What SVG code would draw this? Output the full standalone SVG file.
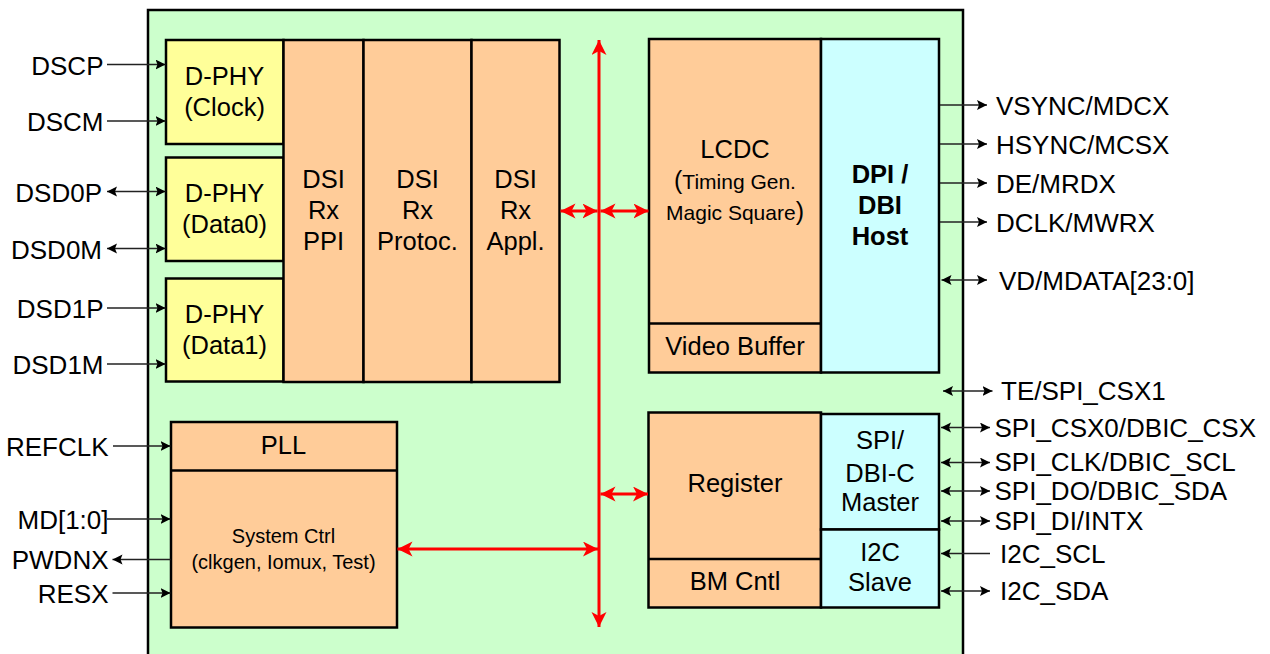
<svg xmlns="http://www.w3.org/2000/svg" width="1270" height="654" viewBox="0 0 1270 654">
<defs>
<style>
text{font-family:"Liberation Sans",Arial,sans-serif;font-size:25.5px;fill:#000}
.c{text-anchor:middle}
.e{text-anchor:end}
.b{font-weight:bold}
.s{font-size:20px}
.t{font-size:21px}
#labels text{font-size:26px}
.box{stroke:#000;stroke-width:2.5}
.y{fill:#FFFF99}
.o{fill:#FFCC99}
.cy{fill:#CCFFFF}
.sig{stroke:#222;stroke-width:1.3;fill:none}
.red{stroke:#FF0000;stroke-width:3;fill:none}
</style>
<marker id="ah" markerUnits="userSpaceOnUse" markerWidth="11" markerHeight="11" refX="10" refY="5" orient="auto-start-reverse" viewBox="0 0 11 11">
<path d="M0,0 L10,5 L0,10 L2,5 z" fill="#000"/>
</marker>
<marker id="rh" markerUnits="userSpaceOnUse" markerWidth="16" markerHeight="16" refX="15" refY="7.5" orient="auto-start-reverse" viewBox="0 0 16 16">
<path d="M0,0 L15,7.5 L0,15 L4,7.5 z" fill="#FF0000"/>
</marker>
</defs>

<g id="chip">
<rect x="148" y="10" width="815" height="665" fill="#CCFFCC" class="box"/>
</g>

<g id="dphy-clock">
<rect x="166" y="40" width="117.5" height="104" class="box y"/>
<text x="224.5" y="85" class="c">D-PHY</text>
<text x="224.5" y="116" class="c">(Clock)</text>
</g>
<g id="dphy-data0">
<rect x="166" y="157.5" width="117.5" height="103.5" class="box y"/>
<text x="224.5" y="202" class="c">D-PHY</text>
<text x="224.5" y="233" class="c">(Data0)</text>
</g>
<g id="dphy-data1">
<rect x="166" y="278.5" width="117.5" height="103" class="box y"/>
<text x="224.5" y="323" class="c">D-PHY</text>
<text x="224.5" y="354" class="c">(Data1)</text>
</g>

<g id="dsi-ppi">
<rect x="283.5" y="40" width="80" height="342" class="box o"/>
<text x="323.5" y="188" class="c">DSI</text>
<text x="323.5" y="219" class="c">Rx</text>
<text x="323.5" y="249.5" class="c">PPI</text>
</g>
<g id="dsi-protoc">
<rect x="363.5" y="40" width="108" height="342" class="box o"/>
<text x="417.5" y="188" class="c">DSI</text>
<text x="417.5" y="219" class="c">Rx</text>
<text x="417.5" y="249.5" class="c">Protoc.</text>
</g>
<g id="dsi-appl">
<rect x="471.5" y="40" width="88" height="342" class="box o"/>
<text x="515.5" y="188" class="c">DSI</text>
<text x="515.5" y="219" class="c">Rx</text>
<text x="515.5" y="249.5" class="c">Appl.</text>
</g>

<g id="lcdc">
<rect x="649" y="39" width="172" height="333.5" class="box o"/>
<line x1="649" y1="323.5" x2="821" y2="323.5" class="box"/>
<text x="735" y="158" class="c">LCDC</text>
<text x="735" y="189" class="c t"><tspan style="font-size:25px">(</tspan>Timing Gen.</text>
<text x="735" y="220" class="c t">Magic Square<tspan style="font-size:25px">)</tspan></text>
<text x="735" y="355" class="c">Video Buffer</text>
</g>

<g id="dpi-dbi-host">
<rect x="821" y="39" width="118" height="333.5" class="box cy"/>
<text x="880" y="183" class="c b">DPI /</text>
<text x="880" y="214" class="c b">DBI</text>
<text x="880" y="245" class="c b">Host</text>
</g>

<g id="pll-sysctrl">
<rect x="171" y="422" width="226" height="205.5" class="box o"/>
<line x1="171" y1="470.5" x2="397" y2="470.5" class="box"/>
<text x="283.5" y="454" class="c">PLL</text>
<text x="283.5" y="543" class="c s">System Ctrl</text>
<text x="283.5" y="568.5" class="c s">(clkgen, Iomux, Test)</text>
</g>

<g id="register">
<rect x="648.5" y="412.5" width="172.5" height="195" class="box o"/>
<line x1="648.5" y1="559" x2="821" y2="559" class="box"/>
<text x="735" y="492" class="c">Register</text>
<text x="735" y="590" class="c">BM Cntl</text>
</g>

<g id="spi-master">
<rect x="821" y="414" width="118" height="115.5" class="box cy"/>
<text x="880" y="448.5" class="c">SPI/</text>
<text x="880" y="481.5" class="c">DBI-C</text>
<text x="880" y="511" class="c">Master</text>
</g>
<g id="i2c-slave">
<rect x="821" y="529.5" width="118" height="78" class="box cy"/>
<text x="880" y="561" class="c">I2C</text>
<text x="880" y="591" class="c">Slave</text>
</g>

<g id="connectors">
<line x1="599" y1="40" x2="599" y2="627" class="red" marker-start="url(#rh)" marker-end="url(#rh)"/>
<line x1="560.5" y1="211" x2="597.5" y2="211" class="red" marker-start="url(#rh)" marker-end="url(#rh)"/>
<line x1="600.5" y1="211" x2="648.5" y2="211" class="red" marker-start="url(#rh)" marker-end="url(#rh)"/>
<line x1="600.5" y1="494" x2="648" y2="494" class="red" marker-start="url(#rh)" marker-end="url(#rh)"/>
<line x1="397.5" y1="549" x2="598" y2="549" class="red" marker-start="url(#rh)" marker-end="url(#rh)"/>

<line x1="107" y1="64.5" x2="165.5" y2="64.5" class="sig" marker-end="url(#ah)"/>
<line x1="107" y1="121" x2="165.5" y2="121" class="sig" marker-end="url(#ah)"/>
<line x1="107" y1="191.5" x2="165.5" y2="191.5" class="sig" marker-start="url(#ah)" marker-end="url(#ah)"/>
<line x1="107" y1="248.5" x2="165.5" y2="248.5" class="sig" marker-start="url(#ah)" marker-end="url(#ah)"/>
<line x1="107" y1="308" x2="165.5" y2="308" class="sig" marker-end="url(#ah)"/>
<line x1="107" y1="364" x2="165.5" y2="364" class="sig" marker-end="url(#ah)"/>
<line x1="113" y1="446" x2="170.5" y2="446" class="sig" marker-end="url(#ah)"/>
<line x1="107" y1="519" x2="170.5" y2="519" class="sig" marker-end="url(#ah)"/>
<line x1="170.5" y1="559.5" x2="112.5" y2="559.5" class="sig" marker-end="url(#ah)"/>
<line x1="112.5" y1="593" x2="170.5" y2="593" class="sig" marker-end="url(#ah)"/>

<line x1="940" y1="105" x2="987" y2="105" class="sig" marker-end="url(#ah)"/>
<line x1="940" y1="144" x2="987" y2="144" class="sig" marker-end="url(#ah)"/>
<line x1="940" y1="183" x2="987" y2="183" class="sig" marker-end="url(#ah)"/>
<line x1="940" y1="222" x2="987" y2="222" class="sig" marker-end="url(#ah)"/>
<line x1="941.5" y1="280" x2="987" y2="280" class="sig" marker-start="url(#ah)" marker-end="url(#ah)"/>
<line x1="943" y1="391" x2="992.5" y2="391" class="sig" marker-start="url(#ah)" marker-end="url(#ah)"/>
<line x1="941" y1="427.5" x2="990" y2="427.5" class="sig" marker-start="url(#ah)" marker-end="url(#ah)"/>
<line x1="941" y1="462.5" x2="990" y2="462.5" class="sig" marker-start="url(#ah)" marker-end="url(#ah)"/>
<line x1="941" y1="491" x2="990" y2="491" class="sig" marker-start="url(#ah)" marker-end="url(#ah)"/>
<line x1="941" y1="521" x2="990" y2="521" class="sig" marker-start="url(#ah)" marker-end="url(#ah)"/>
<line x1="990" y1="553.5" x2="941" y2="553.5" class="sig" marker-end="url(#ah)"/>
<line x1="941" y1="591" x2="990" y2="591" class="sig" marker-start="url(#ah)" marker-end="url(#ah)"/>
</g>

<g id="labels">
<text x="103.5" y="74.5" class="e">DSCP</text>
<text x="103.5" y="131" class="e">DSCM</text>
<text x="102" y="201.5" class="e">DSD0P</text>
<text x="102" y="258.5" class="e">DSD0M</text>
<text x="103.5" y="318" class="e">DSD1P</text>
<text x="103.5" y="374" class="e">DSD1M</text>
<text x="108.5" y="455.5" class="e">REFCLK</text>
<text x="108.5" y="529" class="e">MD[1:0]</text>
<text x="108.5" y="569" class="e">PWDNX</text>
<text x="108.5" y="602.5" class="e">RESX</text>

<text x="996" y="114.5">VSYNC/MDCX</text>
<text x="996" y="153.5">HSYNC/MCSX</text>
<text x="996" y="192.5">DE/MRDX</text>
<text x="996" y="231.5">DCLK/MWRX</text>
<text x="999" y="289.5">VD/MDATA[23:0]</text>
<text x="1001" y="400">TE/SPI_CSX1</text>
<text x="994.5" y="437">SPI_CSX0/DBIC_CSX</text>
<text x="994.5" y="471">SPI_CLK/DBIC_SCL</text>
<text x="994.5" y="500">SPI_DO/DBIC_SDA</text>
<text x="994.5" y="530">SPI_DI/INTX</text>
<text x="1000" y="562.5">I2C_SCL</text>
<text x="1000" y="600">I2C_SDA</text>
</g>
</svg>
